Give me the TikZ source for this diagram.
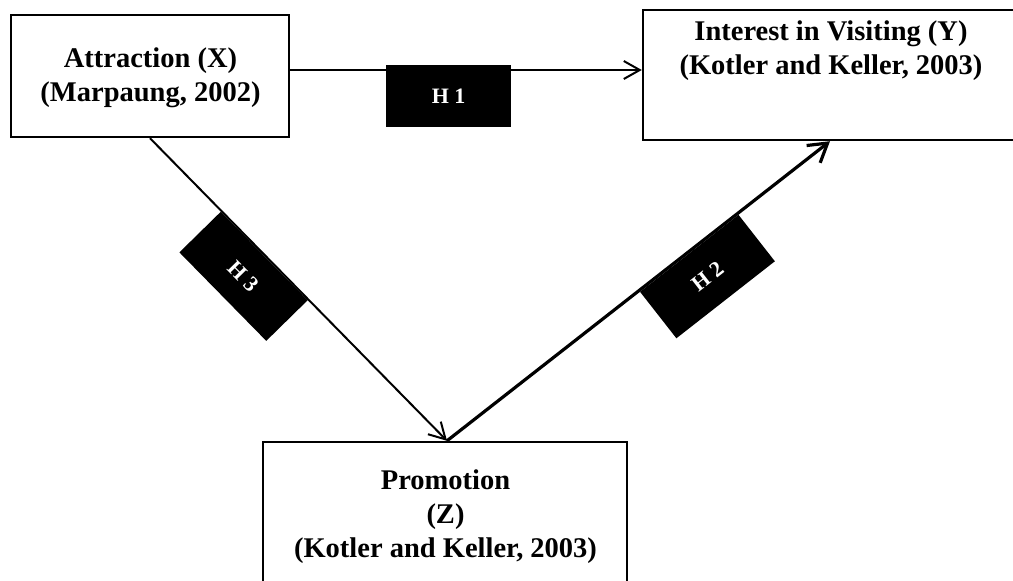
\documentclass[tikz,border=0pt]{standalone}
\usepackage{fontspec}
\setmainfont{Liberation Serif}
\usetikzlibrary{arrows.meta}
\begin{document}
\begin{tikzpicture}[x=1pt,y=-1pt,
  box/.style={draw, line width=2.4pt, rectangle, inner sep=0pt},
  txt/.style={align=center, font=\fontsize{28.5}{34}\selectfont\bfseries, inner sep=0pt},
  hbox/.style={fill=black, text=white, inner sep=0pt, font=\fontsize{22}{26}\selectfont\bfseries},
  conn/.style={line width=2pt, -{Straight Barb[length=16pt,width=18pt]}},
  connthick/.style={line width=3.2pt, -{Straight Barb[length=18pt,width=22pt]}}
]
\clip (0,0) rectangle (1013,581);
\node[box, minimum width=278pt, minimum height=122pt] (attr) at (150,76) {};
\node[box, minimum width=377pt, minimum height=130pt] (inter) at (831.5,75) {};
\node[box, minimum width=364pt, minimum height=160pt] (promo) at (445,522) {};

\node[txt] (attrtxt) at (150.5,78) {Attraction (X)\\(Marpaung, 2002)};
\node[txt] (intertxt) at (831,50.6) {Interest in Visiting (Y)\\(Kotler and Keller, 2003)};
\node[txt] (promotxt) at (445.5,517) {Promotion\\(Z)\\(Kotler and Keller, 2003)};

\draw[conn] ([yshift=6pt]attr.east) -- ([yshift=5pt]inter.west)
  node[hbox, pos=0.4506, anchor=north, yshift=6pt, minimum width=125pt, minimum height=62pt] (h1) {H 1};
\draw[conn] (attr.south) -- ([xshift=2pt]promo.north)
  node[hbox, pos=0.387, sloped, anchor=north, minimum width=124pt, minimum height=58pt] (h3) {H 3};
\draw[connthick] ([xshift=2pt]promo.north) -- ([xshift=-1.5pt]inter.south)
  node[hbox, pos=0.63, sloped, anchor=north, minimum width=125pt, minimum height=59pt] (h2) {H 2};
\end{tikzpicture}
\end{document}
